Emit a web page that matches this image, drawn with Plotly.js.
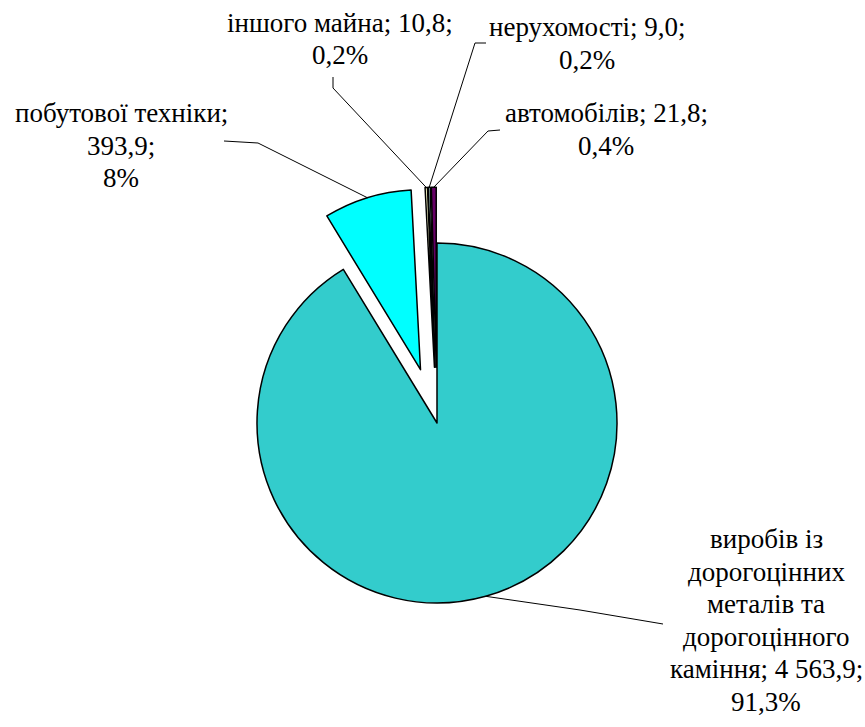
<!DOCTYPE html>
<html>
<head>
<meta charset="utf-8">
<script src="https://cdn.plot.ly/plotly-3.0.1.min.js"></script>
<style>
html,body{margin:0;padding:0;background:#fff;}
#chart text{font-family:"Liberation Serif","Times New Roman",serif !important;}
</style>
</head>
<body>
<div id="chart" style="width:865px;height:727px;"></div>
<script>
// ---- data ----
const categories = [
  "виробів із дорогоцінних металів та дорогоцінного каміння",
  "побутової техніки",
  "іншого майна",
  "нерухомості",
  "автомобілів"
];
const values = [4563.9, 393.9, 10.8, 9.0, 21.8];
const valueLabels = ["4 563,9", "393,9", "10,8", "9,0", "21,8"];
const percentLabels = ["91,3%", "8%", "0,2%", "0,2%", "0,4%"];
const colors = ["#33CCCC", "#00FFFF", "#FFFFCC", "#CCFFFF", "#660066"];
const pulls = [0, 0.31, 0.31, 0.31, 0.31];

// ---- layout geometry ----
const W = 865, H = 727;
const cx = 437, cy = 423, R = 180;           // pie centre / radius in px
const maxPull = Math.max(...pulls);
const half = R * (1 + maxPull);
const px = x => x / W;
const py = y => 1 - y / H;
const FONT = "Liberation Serif";
const FS = 27;
const LINE = 32.5;   // px between text lines

// label lines, block centre x and first-line centre y (px)
const labelLines = [
  ["виробів із", "дорогоцінних", "металів та", "дорогоцінного",
   "каміння; " + valueLabels[0] + ";", percentLabels[0]],
  ["побутової техніки;", valueLabels[1] + ";", percentLabels[1]],
  ["іншого майна; " + valueLabels[2] + ";", percentLabels[2]],
  ["нерухомості; " + valueLabels[3] + ";", percentLabels[3]],
  ["автомобілів; " + valueLabels[4] + ";", percentLabels[4]]
];
const labelPos = [[766, 539], [121, 113], [340, 23], [587, 27], [606, 113]];
const elbows = [
  [[663, 624], [580, 610]],
  [[224, 141], [258, 143]],
  [[333, 77], [333, 88]],
  [[486, 43], [475, 43]],
  [[500, 130], [488, 131]]
];

// compute each slice's outer mid point from the data
const total = values.reduce((a, b) => a + b, 0);
let cum = 0;
const anchors = values.map((v, i) => {
  const a0 = cum / total * 2 * Math.PI;
  cum += v;
  const a1 = cum / total * 2 * Math.PI;
  const m = (a0 + a1) / 2;
  const sx = Math.sin(m), sy = -Math.cos(m);
  const ox = cx + pulls[i] * R * sx, oy = cy + pulls[i] * R * sy;
  return [ox + R * sx, oy + R * sy];
});

const shapes = anchors.map((a, i) => {
  const e = elbows[i];
  return {
    type: "path", xref: "paper", yref: "paper",
    path: "M" + px(e[0][0]) + "," + py(e[0][1]) + " L" + px(e[1][0]) + "," + py(e[1][1]) +
          " L" + px(a[0]) + "," + py(a[1]),
    line: {color: "#000", width: 1}
  };
});

const annotations = [];
labelLines.forEach((lines, i) => {
  lines.forEach((t, j) => {
    annotations.push({
      xref: "paper", yref: "paper",
      x: px(labelPos[i][0]), y: py(labelPos[i][1] + j * LINE),
      xanchor: "center", yanchor: "middle",
      text: t, showarrow: false, align: "center",
      font: {family: FONT, size: FS, color: "#000000"}
    });
  });
});

const trace = {
  type: "pie",
  labels: categories,
  values: values,
  sort: false,
  direction: "clockwise",
  rotation: 0,
  pull: pulls,
  textinfo: "none",
  hoverinfo: "label+value+percent",
  marker: {colors: colors, line: {color: "#000", width: 1.5}},
  domain: {
    x: [(cx - half) / W, (cx + half) / W],
    y: [(H - cy - half) / H, (H - cy + half) / H]
  },
  showlegend: false
};

const layout = {
  width: W, height: H,
  margin: {l: 0, r: 0, t: 0, b: 0},
  font: {family: FONT},
  showlegend: false,
  shapes: shapes,
  annotations: annotations
};

Plotly.newPlot("chart", [trace], layout, {staticPlot: true}).then(gd => {
  gd.querySelectorAll("text").forEach(t => {
    t.style.setProperty("font-family", "'Liberation Serif', 'Times New Roman', serif", "important");
  });
});
</script>
</body>
</html>
